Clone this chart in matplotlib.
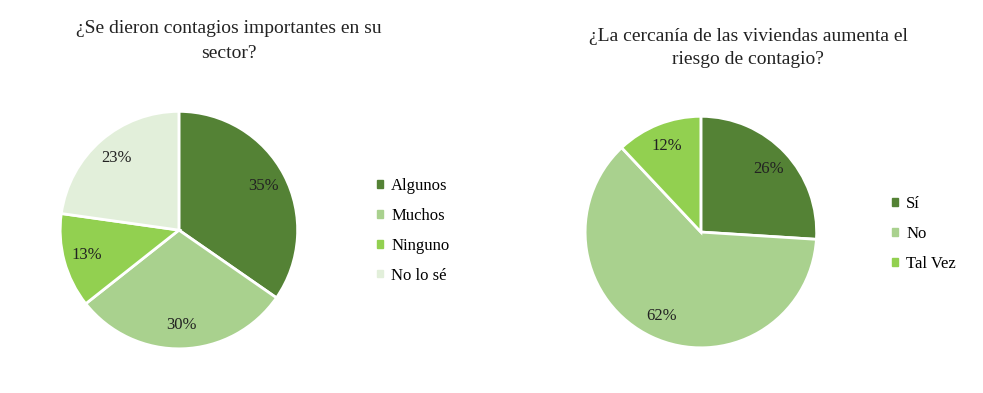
import matplotlib.pyplot as plt
from matplotlib.patches import Patch

plt.rcParams['font.family'] = ['Liberation Serif', 'DejaVu Serif']

# datos
titulo1 = '¿Se dieron contagios importantes en su\nsector?'
cats1 = ['Algunos', 'Muchos', 'Ninguno', 'No lo sé']
vals1 = [35, 30, 13, 23]
titulo2 = '¿La cercanía de las viviendas aumenta el\nriesgo de contagio?'
cats2 = ['Sí', 'No', 'Tal Vez']
vals2 = [26, 62, 12]

col_oscuro = '#548235'
col_claro = '#A9D18E'
col_lima = '#92D050'
col_palido = '#E2EFDA'
colores1 = [col_oscuro, col_claro, col_lima, col_palido]
colores2 = [col_oscuro, col_claro, col_lima]

fig = plt.figure(figsize=(9.83, 3.93), dpi=100)


def pastel(ax, vals, colores):
    etiquetas = iter(vals)
    ax.pie(vals, colors=colores, startangle=90, counterclock=False,
           autopct=lambda p: '%d%%' % next(etiquetas), pctdistance=0.8,
           wedgeprops=dict(edgecolor='white', linewidth=2),
           textprops=dict(fontsize=12, color='#222222'))
    ax.set_xlim(-1.01, 1.01)
    ax.set_ylim(-1.01, 1.01)
    ax.set_aspect('equal')


ax1 = fig.add_axes([0.060, 0.109, 0.244, 0.611])
pastel(ax1, vals1, colores1)
ax2 = fig.add_axes([0.594, 0.112, 0.238, 0.595])
pastel(ax2, vals2, colores2)

fig.text(229 / 983, 1 - 41 / 393, titulo1, ha='center', va='center',
         fontsize=14, color='#222222', linespacing=1.6)
fig.text(748 / 983, 1 - 48 / 393, titulo2, ha='center', va='center',
         fontsize=14, color='#222222', linespacing=1.45)

h1 = [Patch(color=c) for c in colores1]
fig.legend(h1, cats1, loc='upper left', bbox_to_anchor=(362 / 983, 1 - 163 / 393),
           frameon=False, fontsize=12, handlelength=0.35, handleheight=0.35,
           handletextpad=0.5, labelspacing=0.83)
h2 = [Patch(color=c) for c in colores2]
fig.legend(h2, cats2, loc='upper left', bbox_to_anchor=(877 / 983, 1 - 181 / 393),
           frameon=False, fontsize=12, handlelength=0.35, handleheight=0.35,
           handletextpad=0.5, labelspacing=0.83)

fig.savefig('out.png', dpi=100, facecolor='white')
